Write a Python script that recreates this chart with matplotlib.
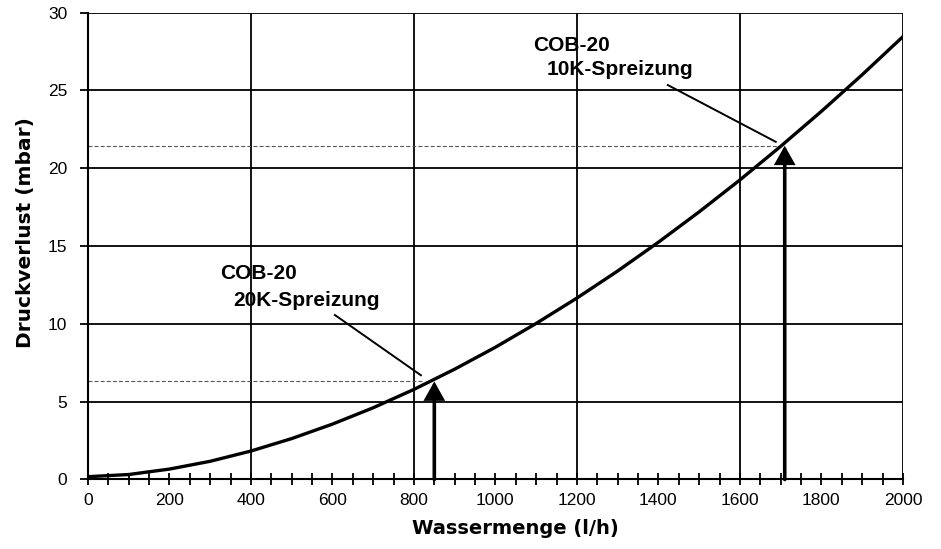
import matplotlib.pyplot as plt

plt.rcParams['font.family'] = ['Liberation Sans', 'DejaVu Sans']

# Kennlinie Druckverlust ueber Wassermenge
flow = [0, 100, 200, 300, 400, 500, 600, 700, 800, 900, 1000,
        1100, 1200, 1300, 1400, 1500, 1600, 1700, 1800, 1900, 2000]
dp = [0.18, 0.32, 0.67, 1.17, 1.83, 2.63, 3.56, 4.61, 5.79, 7.09, 8.50,
      10.03, 11.66, 13.40, 15.25, 17.20, 19.25, 21.41, 23.66, 26.01, 28.46]

# Betriebspunkte (Wassermenge, Druckverlust)
op_flow = [850, 1710]
op_dp = [6.3, 21.45]
dash_end = [822, 1690]
label_top = ["COB-20", "COB-20"]
label_sub = ["20K-Spreizung", "10K-Spreizung"]
top_pos = [(324, 12.89), (1092, 27.56)]
sub_pos = [(356, 11.15), (1126, 26.0)]
leader_start = [(606, 10.57), (1423, 25.35)]
leader_end = [(817, 6.7), (1688, 21.7)]

x_grid = [400, 800, 1200, 1600, 2000]
y_ticks = [0, 5, 10, 15, 20, 25, 30]
x_ticks = list(range(0, 2001, 200))
x_minor = list(range(0, 2001, 50))

fig = plt.figure(figsize=(9.41, 5.49), dpi=100)
ax = fig.add_axes([0.0935, 0.1266, 0.866, 0.8503])

# Raster
for gx in x_grid:
    ax.axvline(gx, color='black', lw=1.3, zorder=1)
for gy in y_ticks[1:]:
    ax.axhline(gy, color='black', lw=1.3, zorder=1)

ax.plot(flow, dp, color='black', lw=2.4, zorder=3)

for fx, fy, dx in zip(op_flow, op_dp, dash_end):
    ax.plot([0, dx], [fy, fy], color='#555555', lw=0.8, ls=(0, (3.5, 2)), zorder=2)
    ax.annotate('', xy=(fx, fy), xytext=(fx, 0),
                arrowprops=dict(arrowstyle='-|>,head_length=0.5,head_width=0.28',
                                lw=2.6, color='black', joinstyle='miter',
                                mutation_scale=20, shrinkA=0, shrinkB=0),
                zorder=4)

for t1, t2, (x1, y1), (x2, y2) in zip(label_top, label_sub, top_pos, sub_pos):
    ax.text(x1, y1, t1, fontsize=15, fontweight='bold', ha='left', va='baseline')
    ax.text(x2, y2, t2, fontsize=15, fontweight='bold', ha='left', va='baseline')

for (sx, sy), (ex, ey) in zip(leader_start, leader_end):
    ax.plot([sx, ex], [sy, ey], color='black', lw=1.4, zorder=3)

ax.set_xlim(0, 2000)
ax.set_ylim(0, 30)
ax.set_xticks(x_ticks)
ax.set_xticks(x_minor, minor=True)
ax.set_yticks(y_ticks)
ax.tick_params(axis='x', which='both', direction='inout', length=9, width=1.3,
               labelsize=12.5, pad=5)
ax.tick_params(axis='y', direction='out', length=6, width=1.3, labelsize=12.5, pad=9)

for side in ['top', 'right']:
    ax.spines[side].set_visible(False)
for side in ['left', 'bottom']:
    ax.spines[side].set_linewidth(1.5)

ax.set_xlabel('Wassermenge (l/h)', fontsize=14, fontweight='bold', labelpad=8,
              family='DejaVu Sans')
ax.set_ylabel('Druckverlust (mbar)', fontsize=14.5, fontweight='bold', labelpad=9,
              family='DejaVu Sans')
ax.xaxis.label.set_x(0.524)
ax.yaxis.label.set_y(0.528)

fig.savefig('out.png', dpi=100)
